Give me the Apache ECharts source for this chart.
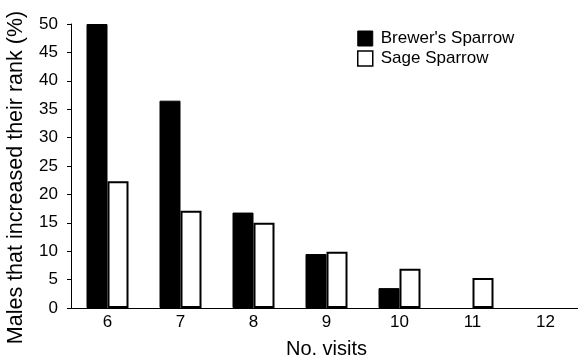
<!DOCTYPE html>
<html>
<head>
<meta charset="utf-8">
<script src="https://cdn.jsdelivr.net/npm/echarts@6/dist/echarts.min.js"></script>
<style>
  html, body { margin: 0; padding: 0; background: #fff; }
  #chart { width: 578px; height: 360px; }
</style>
</head>
<body>
<div id="chart"></div>
<script>
// Number of visits per male
const visits = ['6', '7', '8', '9', '10', '11', '12'];
// Percentage of males that increased their rank
const brewersSparrow = [50, 36.5, 16.8, 9.5, 3.5, 0, 0];
const sageSparrow = [22.3, 17.1, 15.0, 9.9, 6.9, 5.3, 0];
const yTicks = { min: 0, max: 50, interval: 5 };

const font = 'Liberation Sans, Arial, sans-serif';

// Zero-height bars get no outline so they leave no stray line on the axis
function barData(values) {
  return values.map(v => (v === 0 ? { value: v, itemStyle: { borderWidth: 0 } } : v));
}

const chart = echarts.init(document.getElementById('chart'), null, { renderer: 'canvas' });

chart.setOption({
  animation: false,
  backgroundColor: '#ffffff',
  textStyle: { fontFamily: font, color: '#000' },
  legend: {
    orient: 'vertical',
    left: 352,
    top: 25,
    itemWidth: 15,
    itemHeight: 15,
    itemGap: 3,
    icon: 'rect',
    textStyle: { fontFamily: font, fontSize: 17, color: '#000', padding: [0, 0, 0, 3] },
    data: [
      { name: "Brewer's Sparrow", itemStyle: { color: '#000', borderColor: '#000', borderWidth: 1 } },
      { name: 'Sage Sparrow', itemStyle: { color: '#fff', borderColor: '#000', borderWidth: 1.5 } }
    ]
  },
  grid: {
    left: 71, top: 24, width: 511, height: 284,
    containLabel: false,
    outerBoundsMode: 'none'
  },
  xAxis: {
    type: 'category',
    data: visits,
    name: 'No. visits',
    nameLocation: 'middle',
    nameGap: 31,
    nameTextStyle: { fontFamily: font, fontSize: 20, color: '#000' },
    axisLine: { lineStyle: { color: '#000', width: 1 } },
    axisTick: { show: false },
    axisLabel: { fontFamily: font, fontSize: 17, color: '#000', margin: 6 },
    splitLine: { show: false }
  },
  yAxis: {
    type: 'value',
    min: yTicks.min,
    max: yTicks.max,
    interval: yTicks.interval,
    name: 'Males that increased their rank (%)',
    nameLocation: 'middle',
    nameGap: 44,
    nameTextStyle: { fontFamily: font, fontSize: 21.5, color: '#000', padding: [0, 23, 0, 0] },
    axisLine: { show: true, lineStyle: { color: '#000', width: 1 } },
    axisTick: { show: true, inside: false, length: 4, lineStyle: { color: '#000' } },
    axisLabel: { fontFamily: font, fontSize: 17, color: '#000', margin: 13 },
    splitLine: { show: false }
  },
  series: [
    {
      name: "Brewer's Sparrow",
      type: 'bar',
      data: barData(brewersSparrow),
      barWidth: 21,
      barGap: '0%',
      itemStyle: { color: '#000', borderColor: '#000', borderWidth: 1 }
    },
    {
      name: 'Sage Sparrow',
      type: 'bar',
      data: barData(sageSparrow),
      barWidth: 21,
      barGap: '0%',
      itemStyle: { color: '#fff', borderColor: '#000', borderWidth: 2 }
    }
  ]
});
</script>
</body>
</html>
